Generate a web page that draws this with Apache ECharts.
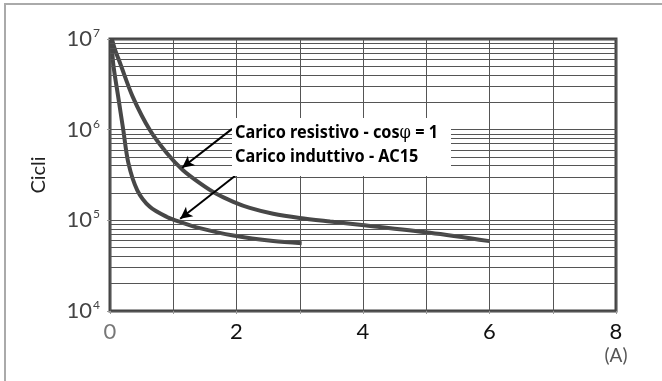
<!DOCTYPE html>
<html>
<head>
<meta charset="utf-8">
<script src="https://cdn.jsdelivr.net/npm/echarts@6/dist/echarts.min.js"></script>
<style>html,body{margin:0;padding:0;background:#fff;}#c{width:662px;height:381px;}</style>
</head>
<body>
<div id="c"></div>
<script>
// ---- data ----
const resistiveX = [0.03, 0.08, 0.16, 0.36, 0.63, 0.90, 1.15, 1.42, 1.69, 1.95, 2.21, 2.58, 3.00, 3.48, 3.98, 5.06, 6.00];
const resistiveY = [1.0e7, 7.6e6, 5.4e6, 2.3e6, 9.9e5, 5.5e5, 3.6e5, 2.58e5, 1.95e5, 1.6e5, 1.37e5, 1.18e5, 1.06e5, 9.7e4, 8.9e4, 7.3e4, 5.9e4];
const inductiveX = [0.03, 0.05, 0.13, 0.21, 0.29, 0.43, 0.63, 0.90, 1.11, 1.42, 1.95, 2.58, 3.03];
const inductiveY = [1.0e7, 5.4e6, 2.3e6, 9.9e5, 4.3e5, 2.16e5, 1.41e5, 1.09e5, 9.6e4, 8.2e4, 6.8e4, 5.9e4, 5.6e4];
const xTicks = [0, 2, 4, 6, 8];
const xUnit = '(A)';
const yMin = 1e4, yMax = 1e7;
const minorGridValues = [2e4,3e4,4e4,5e4,6e4,7e4,8e4,9e4, 2e5,3e5,4e5,5e5,6e5,7e5,8e5,9e5, 2e6,3e6,4e6,5e6,6e6,7e6,8e6,9e6];
const labelResistive = ['Carico resistivo - cos', 'φ', ' = 1'];
const labelInductive = 'Carico induttivo - AC15';
const arrowResistive = [[1.93, 1.02e6], [1.14, 3.8e5]];
const arrowInductive = [[1.98, 3.1e5], [1.11, 1.04e5]];
const yName = 'Cicli';

const pairs = (xs, ys) => xs.map((x, i) => [x, ys[i]]);
const chart = echarts.init(document.getElementById('c'), null, {renderer: 'canvas'});
const labelFont = 'Lato, "Noto Sans", sans-serif';
const boldFont = '"Noto Sans", "Open Sans", sans-serif';
const phiFont = '"DejaVu Serif", "Noto Sans", serif';
const boldSize = 18;

// horizontal squeeze so the annotation matches the condensed original face
const mctx = document.createElement('canvas').getContext('2d');
mctx.font = 'bold ' + boldSize + 'px ' + boldFont;
let w1 = mctx.measureText(labelResistive[0]).width + mctx.measureText(labelResistive[2]).width;
mctx.font = boldSize + 'px ' + phiFont;
w1 += mctx.measureText(labelResistive[1]).width;
const squeeze = 203 / w1;

const richBox = {
  b: {fontFamily: boldFont, fontWeight: 'bold', fontSize: boldSize, fill: '#000', color: '#000'},
  p: {fontFamily: phiFont, fontWeight: 'normal', fontSize: boldSize, fill: '#000', color: '#000'}
};

chart.setOption({
  animation: false,
  backgroundColor: '#fff',
  grid: {left: 110, right: 46, top: 39, bottom: 70, show: true, borderColor: '#444', borderWidth: 3, backgroundColor: 'transparent'},
  xAxis: {
    type: 'value', min: 0, max: 8, interval: 1,
    axisLine: {show: false},
    axisTick: {show: true, length: 3, lineStyle: {color: '#999'}},
    splitLine: {show: true, lineStyle: {color: '#555', width: 1}},
    axisLabel: {
      margin: 10, fontFamily: labelFont, fontSize: 22, color: '#111', lineHeight: 22,
      formatter: v => {
        if (xTicks.indexOf(v) < 0) return '';
        if (v === 0) return '{z|0}';
        if (v === 8) return '{n|8}\n{u|' + xUnit + '}';
        return String(v);
      },
      rich: {
        z: {fontFamily: labelFont, fontSize: 22, color: '#777', lineHeight: 22},
        n: {fontFamily: labelFont, fontSize: 22, color: '#111', lineHeight: 22},
        u: {fontFamily: labelFont, fontSize: 19, color: '#555', lineHeight: 26}
      }
    }
  },
  yAxis: {
    type: 'log', logBase: 10, min: yMin, max: yMax,
    name: yName, nameLocation: 'middle', nameGap: 61,
    nameTextStyle: {fontFamily: labelFont, fontSize: 20, color: '#222'},
    axisLine: {show: false},
    axisTick: {show: true, length: 3, lineStyle: {color: '#999'}},
    splitLine: {show: true, lineStyle: {color: '#555', width: 1}},
    axisLabel: {
      margin: 10,
      formatter: v => '{b|10}{e|' + Math.round(Math.log10(v)) + '}',
      rich: {
        b: {fontFamily: labelFont, fontSize: 22, color: '#444', lineHeight: 24},
        e: {fontFamily: labelFont, fontSize: 12, color: '#444', verticalAlign: 'top', lineHeight: 24, padding: [0, 0, 12, 1]}
      }
    }
  },
  series: [
    {
      type: 'line', data: [], z: 1, silent: true,
      markLine: {
        silent: true, symbol: ['none', 'none'], label: {show: false},
        lineStyle: {color: '#555', width: 1, type: 'solid'},
        data: minorGridValues.map(v => ({yAxis: v}))
      }
    },
    {
      type: 'line', name: labelResistive.join(''), data: pairs(resistiveX, resistiveY), smooth: 0.3,
      showSymbol: false, z: 3, lineStyle: {color: '#474747', width: 4}, itemStyle: {color: '#474747'}
    },
    {
      type: 'line', name: labelInductive, data: pairs(inductiveX, inductiveY), smooth: 0.3,
      showSymbol: false, z: 3, lineStyle: {color: '#474747', width: 4}, itemStyle: {color: '#474747'},
      markLine: {
        silent: true, symbol: ['none', 'arrow'], symbolSize: [9, 12], label: {show: false},
        lineStyle: {color: '#000', width: 2, type: 'solid'},
        data: [
          [{coord: arrowResistive[0]}, {coord: arrowResistive[1]}],
          [{coord: arrowInductive[0]}, {coord: arrowInductive[1]}]
        ]
      }
    }
  ],
  graphic: [
    {type: 'rect', z: 100, shape: {x: 5, y: 4, width: 700, height: 400}, style: {fill: 'none', stroke: '#aaa', lineWidth: 2}, silent: true},
    {type: 'rect', z: 90, shape: {x: 232, y: 118, width: 219, height: 58}, style: {fill: '#fff'}, silent: true},
    {type: 'text', z: 101, x: 235, y: 133, scaleX: squeeze, style: {x: 0, y: 0,
      text: '{b|' + labelResistive[0] + '}{p|' + labelResistive[1] + '}{b|' + labelResistive[2] + '}',
      rich: richBox, verticalAlign: 'middle', align: 'left', fontFamily: boldFont, fontWeight: 'bold', fontSize: boldSize, fill: '#000'}},
    {type: 'text', z: 101, x: 235, y: 157, scaleX: squeeze, style: {x: 0, y: 0, text: labelInductive, verticalAlign: 'middle', align: 'left', fontFamily: boldFont, fontWeight: 'bold', fontSize: boldSize, fill: '#000'}}
  ]
});
</script>
</body>
</html>
